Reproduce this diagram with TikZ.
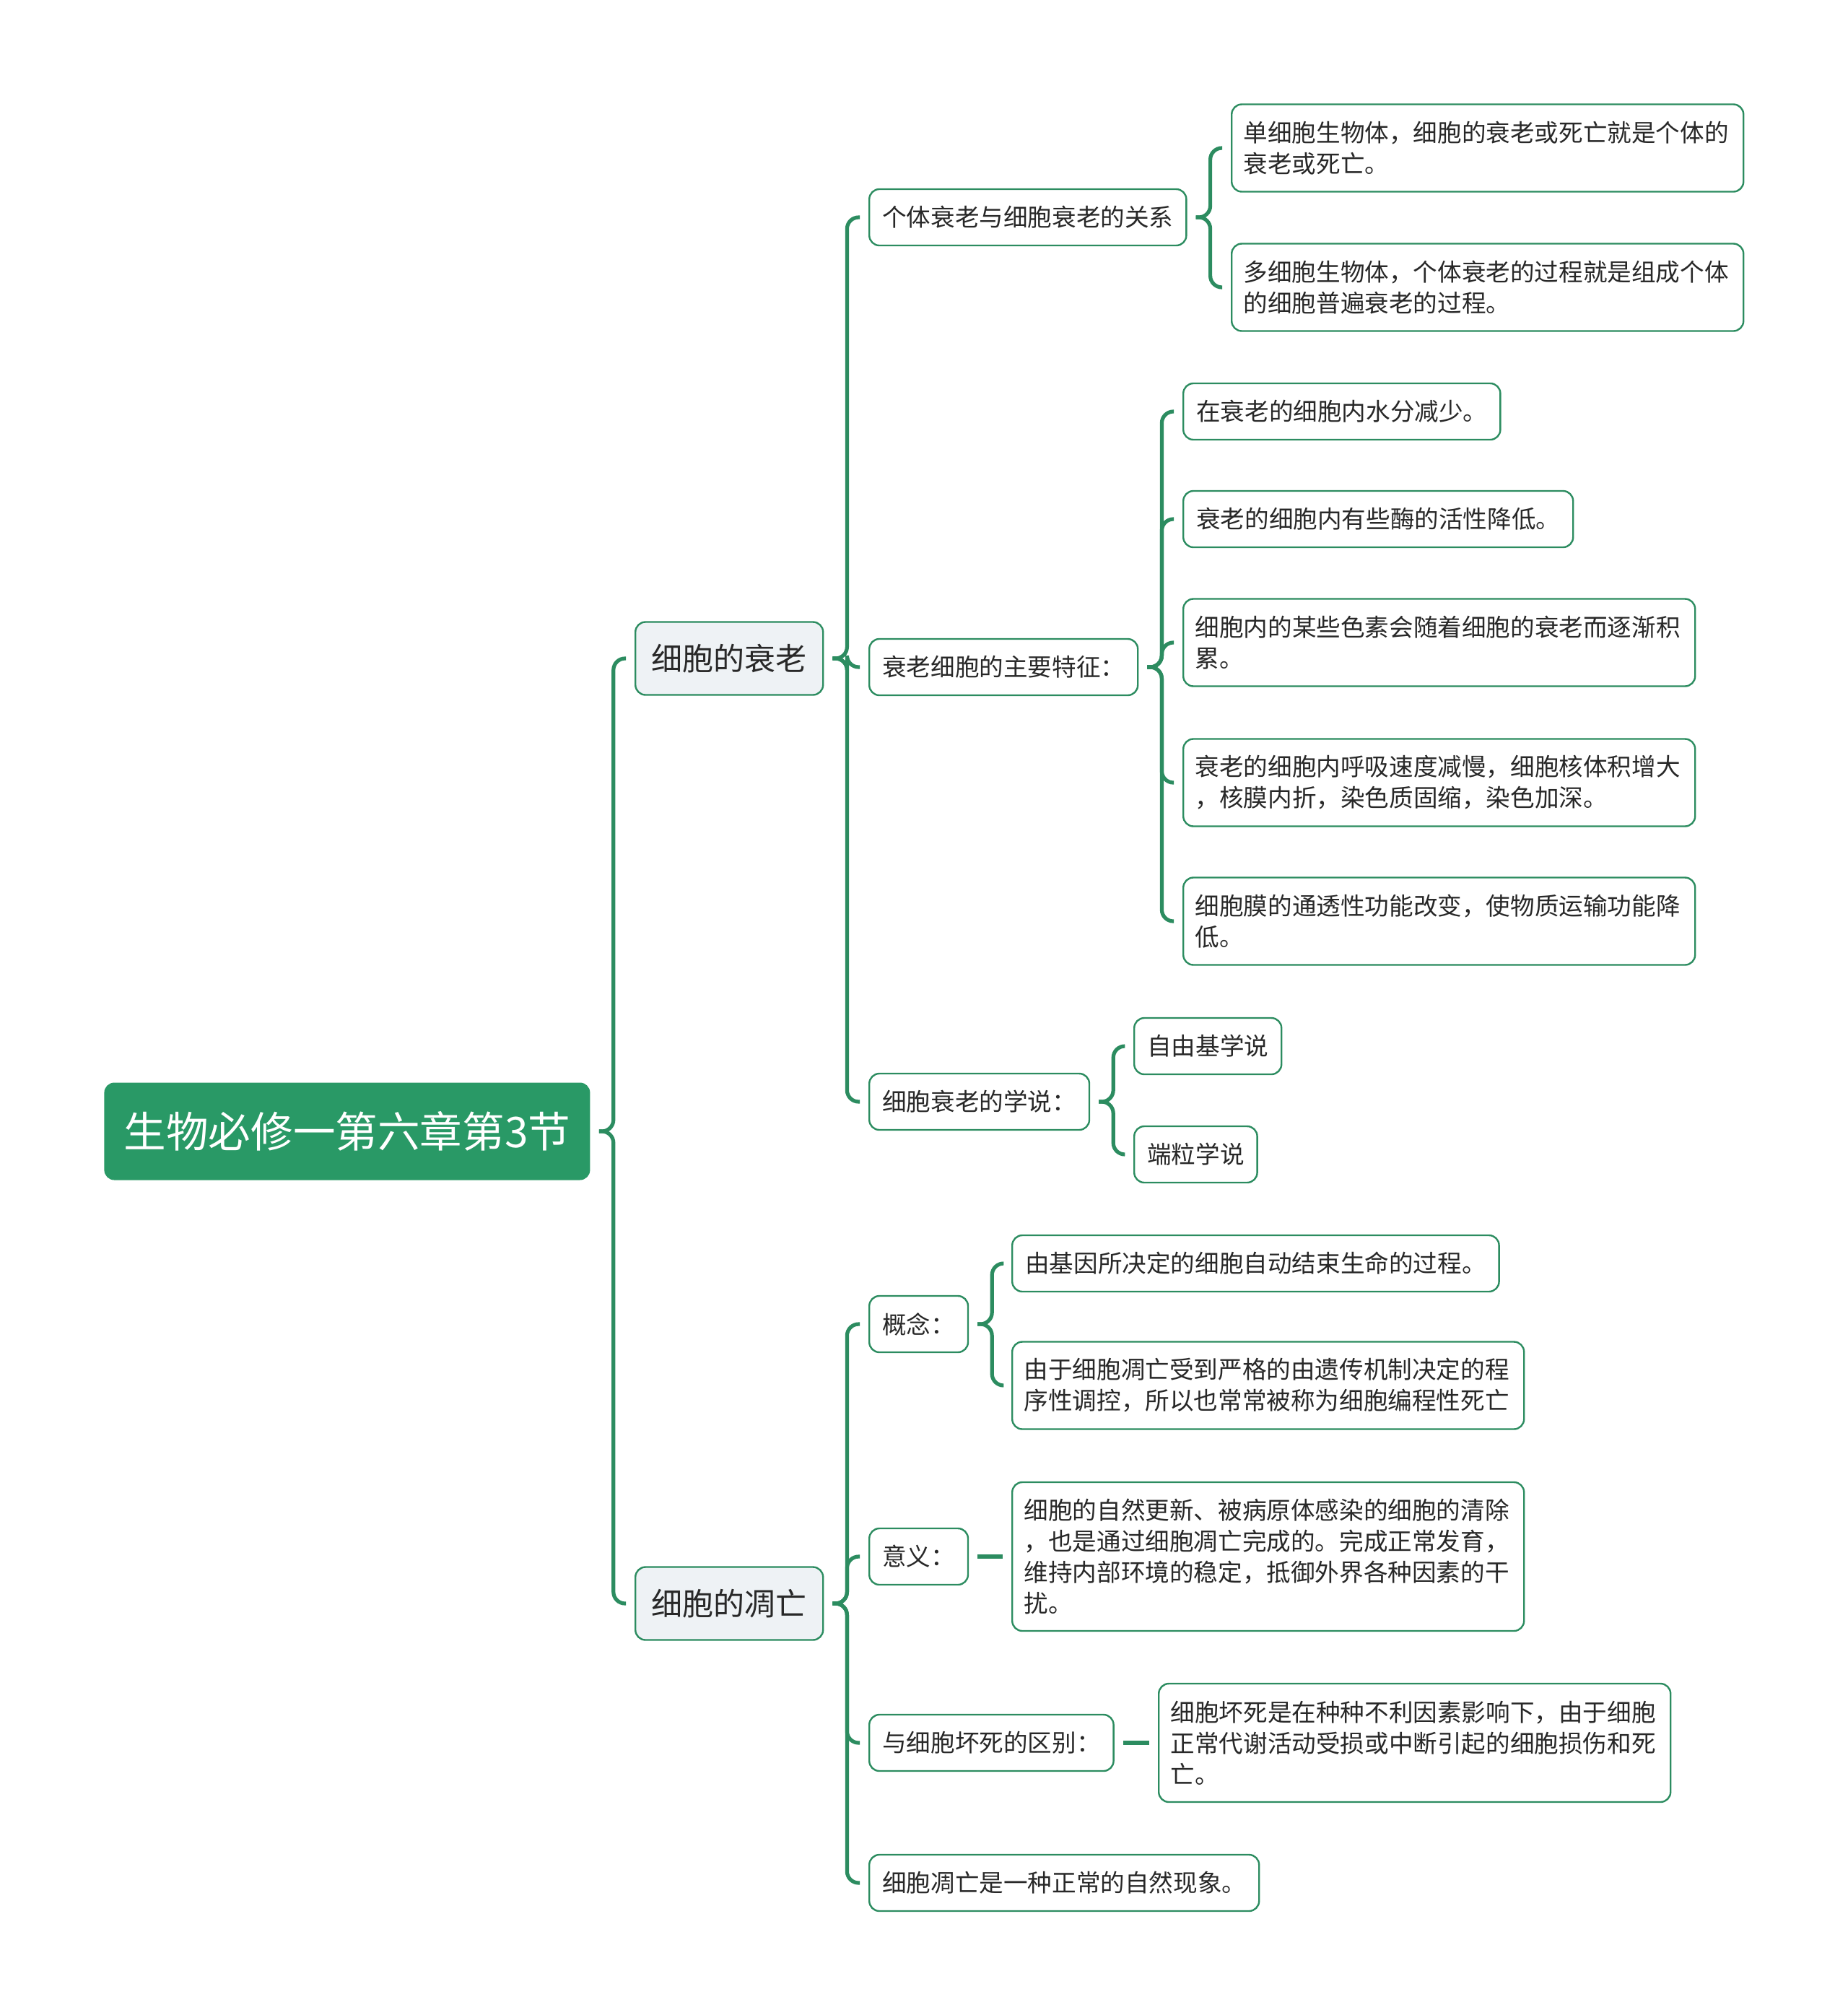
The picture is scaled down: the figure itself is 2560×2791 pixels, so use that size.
\documentclass[tikz,border=0pt]{standalone}
\usepackage{fontspec}
\setmainfont{Noto Sans CJK SC}
\usepackage{xcolor}
\definecolor{mmgreen}{RGB}{41,153,102}
\definecolor{mmline}{RGB}{44,140,96}
\definecolor{mmgrey}{RGB}{238,242,245}
\definecolor{mmtext}{RGB}{40,40,40}

\tikzset{
  topic/.style={fill=mmgreen, rounded corners=7pt, text=white, font=\fontsize{29.3}{35}\selectfont,
    inner xsep=4pt, minimum width=336.5pt, minimum height=67.5pt, anchor=west},
  branch/.style={draw=mmline, line width=1.2pt, fill=mmgrey, rounded corners=7pt, text=mmtext,
    font=\fontsize{21.5}{26}\selectfont, minimum width=130pt, minimum height=50.5pt, anchor=west},
  item/.style={draw=mmline, line width=1.2pt, fill=white, rounded corners=7pt, text=mmtext,
    font=\fontsize{16.8}{21.5}\selectfont, inner xsep=9pt, inner ysep=3pt, minimum height=39pt,
    anchor=west, align=left},
  note/.style={item, text width=338pt, inner xsep=8.25pt},
  link/.style={draw=mmline, line width=2.6pt, rounded corners=8pt},
}

\begin{document}
\begin{tikzpicture}[x=0.5pt,y=-0.5pt]
  \useasboundingbox (0,0) rectangle (2560,2791);

  % Root and main branches
  \node[topic] (root) at (144,1567) {生物必修一第六章第3节};
  \node[branch] (age) at (879,912) {细胞的衰老};
  \node[branch] (apo) at (879,2221) {细胞的凋亡};

  % Second level
  \node[item] (rel) at (1203,301) {个体衰老与细胞衰老的关系};
  \node[item] (feat) at (1203,924) {衰老细胞的主要特征：};
  \node[item] (theory) at (1203,1526) {细胞衰老的学说：};
  \node[item] (concept) at (1203,1834) {概念：};
  \node[item] (meaning) at (1203,2156) {意义：};
  \node[item] (diff) at (1203,2414) {与细胞坏死的区别：};
  \node[item] (natural) at (1203,2608) {细胞凋亡是一种正常的自然现象。};

  % Leaves
  \node[note, minimum height=60.5pt] (single) at (1705,205) {单细胞生物体，细胞的衰老或死亡就是个体的\\衰老或死亡。};
  \node[note, minimum height=60.5pt] (multi) at (1705,398) {多细胞生物体，个体衰老的过程就是组成个体\\的细胞普遍衰老的过程。};
  \node[item] (water) at (1638,570) {在衰老的细胞内水分减少。};
  \node[item] (enzyme) at (1638,719) {衰老的细胞内有些酶的活性降低。};
  \node[note, minimum height=60.5pt] (pigment) at (1638,890) {细胞内的某些色素会随着细胞的衰老而逐渐积\\累。};
  \node[note, minimum height=60.5pt] (breath) at (1638,1084) {衰老的细胞内呼吸速度减慢，细胞核体积增大\\，核膜内折，染色质固缩，染色加深。};
  \node[note, minimum height=60.5pt] (membrane) at (1638,1276) {细胞膜的通透性功能改变，使物质运输功能降\\低。};
  \node[item] (radical) at (1570,1449) {自由基学说};
  \node[item] (telomere) at (1570,1599) {端粒学说};
  \node[item] (gene) at (1401,1750) {由基因所决定的细胞自动结束生命的过程。};
  \node[note, minimum height=60.5pt] (program) at (1401,1919) {由于细胞凋亡受到严格的由遗传机制决定的程\\序性调控，所以也常常被称为细胞编程性死亡};
  \node[note, minimum height=103pt] (renew) at (1401,2156) {细胞的自然更新、被病原体感染的细胞的清除\\，也是通过细胞凋亡完成的。完成正常发育，\\维持内部环境的稳定，抵御外界各种因素的干\\扰。};
  \node[note, minimum height=82pt] (necro) at (1604,2414) {细胞坏死是在种种不利因素影响下，由于细胞\\正常代谢活动受损或中断引起的细胞损伤和死\\亡。};

  % Brackets
  \foreach \c in {age,apo}
    \draw[link] ([xshift=6pt]root.east) -- ([xshift=16pt]root.east) |- ([xshift=-6pt]\c.west);
  \foreach \c in {rel,feat,theory}
    \draw[link] ([xshift=6pt]age.east) -- ([xshift=16pt]age.east) |- ([xshift=-6pt]\c.west);
  \foreach \c in {concept,meaning,diff,natural}
    \draw[link] ([xshift=6pt]apo.east) -- ([xshift=16pt]apo.east) |- ([xshift=-6pt]\c.west);
  \foreach \c in {single,multi}
    \draw[link] ([xshift=6pt]rel.east) -- ([xshift=16pt]rel.east) |- ([xshift=-6pt]\c.west);
  \foreach \c in {water,enzyme,pigment,breath,membrane}
    \draw[link] ([xshift=6pt]feat.east) -- ([xshift=16pt]feat.east) |- ([xshift=-6pt]\c.west);
  \foreach \c in {radical,telomere}
    \draw[link] ([xshift=6pt]theory.east) -- ([xshift=16pt]theory.east) |- ([xshift=-6pt]\c.west);
  \foreach \c in {gene,program}
    \draw[link] ([xshift=6pt]concept.east) -- ([xshift=16pt]concept.east) |- ([xshift=-6pt]\c.west);

  % Single connections
  \draw[link] ([xshift=6pt]meaning.east) -- ([xshift=-6pt]renew.west);
  \draw[link] ([xshift=6pt]diff.east) -- ([xshift=-6pt]necro.west);
\end{tikzpicture}
\end{document}
